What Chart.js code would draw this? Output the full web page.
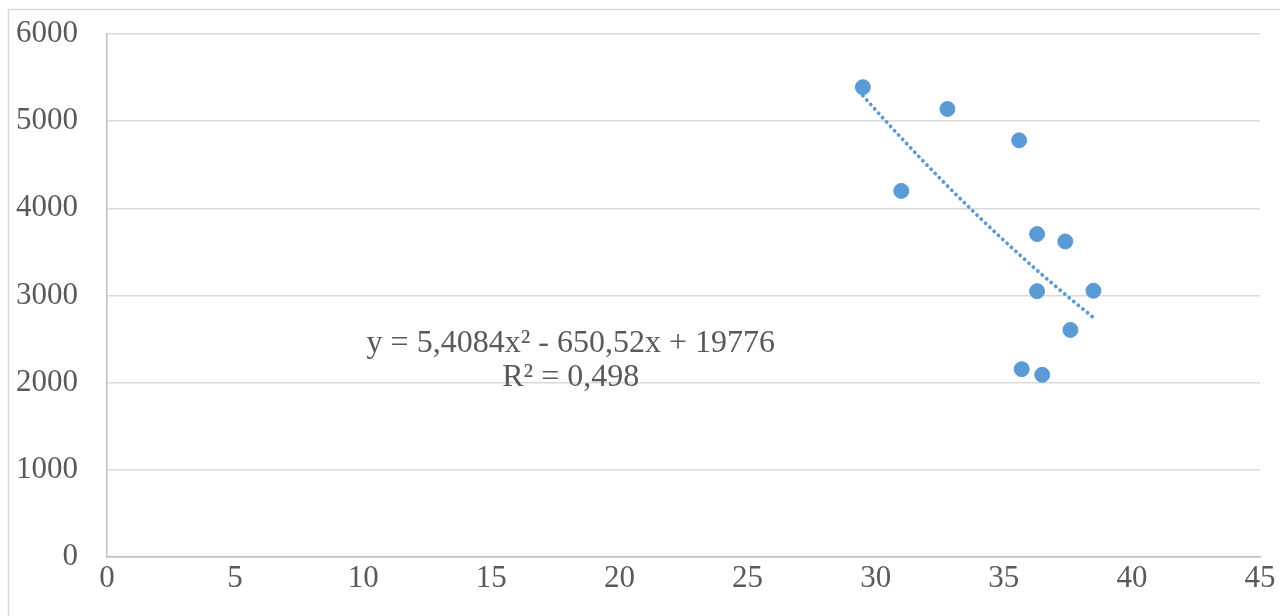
<!DOCTYPE html>
<html>
<head>
<meta charset="utf-8">
<script src="https://cdn.jsdelivr.net/npm/chart.js@4/dist/chart.umd.min.js"></script>
<style>
  html, body { margin: 0; padding: 0; background: #fff; }
  #wrap { width: 1280px; height: 616px; }
</style>
</head>
<body>
<div id="wrap"><canvas id="myChart" width="1280" height="616"></canvas></div>
<script>
// data
var xValues = [29.5, 32.8, 35.6, 31.0, 36.3, 37.4, 36.3, 38.5, 37.6, 35.7, 36.5];
var yValues = [5390, 5140, 4780, 4200, 3705, 3620, 3050, 3055, 2605, 2155, 2090];
// polynomial trendline shown on the chart: y = a*x^2 + b*x + c
var trendCoef = [5.4084, -650.52, 19776];
var trendRange = [29.5, 38.5];
var labelLines = ['y = 5,4084x\u00b2 - 650,52x + 19776', 'R\u00b2 = 0,498'];

var points = xValues.map(function (x, i) { return { x: x, y: yValues[i] }; });

var trend = [];
for (var x = trendRange[0]; x <= trendRange[1] + 1e-9; x += 0.25) {
    trend.push({ x: x, y: trendCoef[0] * x * x + trendCoef[1] * x + trendCoef[2] });
}

var textColor = '#595959';
var fontFamily = '"Liberation Serif", "Times New Roman", serif';

// outer frame and trendline equation
var extras = {
    id: 'extras',
    beforeDraw: function (chart) {
        var c = chart.ctx;
        c.save();
        c.strokeStyle = '#d9d9d9';
        c.lineWidth = 1.5;
        c.strokeRect(8.5, 9.5, 1400, 800);
        c.restore();
    },
    afterDatasetsDraw: function (chart) {
        var c = chart.ctx;
        var sx = chart.scales.x, sy = chart.scales.y;
        var px = sx.getPixelForValue(18.1);
        var py = sy.getPixelForValue(2445);
        c.save();
        c.fillStyle = textColor;
        c.font = '32px ' + fontFamily;
        c.textAlign = 'center';
        c.textBaseline = 'middle';
        c.fillText(labelLines[0], px, py);
        c.fillText(labelLines[1], px, py + 34);
        c.restore();
    }
};

var ctx = document.getElementById('myChart').getContext('2d');
var myChart = new Chart(ctx, {
    type: 'scatter',
    data: {
        datasets: [{
            label: 'data',
            data: points,
            backgroundColor: '#5b9bd5',
            borderColor: '#5b9bd5',
            pointRadius: 7.5,
            pointHoverRadius: 7.5,
            order: 2
        }, {
            label: 'trend',
            type: 'line',
            data: trend,
            showLine: true,
            borderColor: '#5b9bd5',
            borderWidth: 3.8,
            borderDash: [0.1, 5.8],
            borderCapStyle: 'round',
            pointRadius: 0,
            fill: false,
            tension: 0,
            order: 1
        }]
    },
    options: {
        responsive: false,
        animation: false,
        layout: { padding: { top: 34, right: 20, bottom: 0, left: 0 } },
        plugins: {
            legend: { display: false },
            tooltip: { enabled: false }
        },
        scales: {
            x: {
                type: 'linear',
                min: 0,
                max: 45,
                ticks: {
                    stepSize: 5,
                    color: textColor,
                    font: { family: fontFamily, size: 31 },
                    padding: 3,
                    maxRotation: 0,
                    callback: function (v) { return String(v); }
                },
                grid: { display: false, drawTicks: false },
                border: { display: true, color: '#bfbfbf', width: 1.5 },
                afterFit: function (s) { s.height = 59; }
            },
            y: {
                min: 0,
                max: 6000,
                ticks: {
                    stepSize: 1000,
                    color: textColor,
                    font: { family: fontFamily, size: 31 },
                    padding: 29,
                    callback: function (v) { return String(v); }
                },
                grid: { color: '#d9d9d9', lineWidth: 1.5, drawTicks: false },
                border: { display: true, color: '#bfbfbf', width: 1.5 },
                afterFit: function (s) {
                    s.width = 107;
                    s.paddingTop = 18;
                    s.paddingBottom = 18;
                }
            }
        }
    },
    plugins: [extras]
});
</script>
</body>
</html>
